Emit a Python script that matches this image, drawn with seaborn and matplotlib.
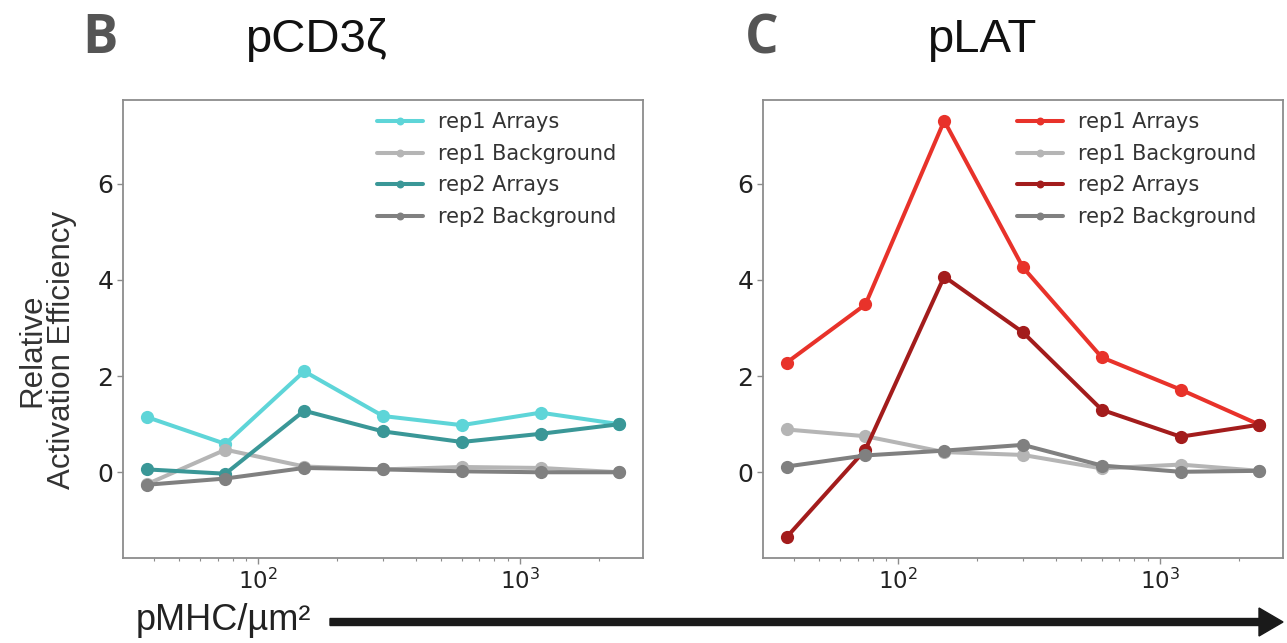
import numpy as np
import pandas as pd
import matplotlib
matplotlib.use("Agg")
import matplotlib.pyplot as plt
import seaborn as sns

# ---------------- data ----------------
density = [37.5, 75, 150, 300, 600, 1200, 2400]  # pMHC/um^2
series_names = ["rep1 Arrays", "rep1 Background", "rep2 Arrays", "rep2 Background"]

cd3_rep1_arrays = [1.15, 0.59, 2.10, 1.17, 0.98, 1.24, 1.00]
cd3_rep1_background = [-0.25, 0.47, 0.12, 0.06, 0.11, 0.09, 0.00]
cd3_rep2_arrays = [0.06, -0.03, 1.28, 0.85, 0.63, 0.80, 1.00]
cd3_rep2_background = [-0.26, -0.13, 0.09, 0.06, 0.02, 0.00, 0.00]

lat_rep1_arrays = [2.28, 3.49, 7.31, 4.26, 2.39, 1.72, 0.99]
lat_rep1_background = [0.89, 0.75, 0.42, 0.36, 0.08, 0.16, 0.03]
lat_rep2_arrays = [-1.35, 0.47, 4.07, 2.91, 1.30, 0.74, 0.99]
lat_rep2_background = [0.12, 0.35, 0.45, 0.57, 0.14, 0.01, 0.03]

panel_titles = ["pCD3ζ", "pLAT"]
panel_letters = ["B", "C"]

cd3_colors = ["#5ed5d8", "#b5b5b5", "#3a9797", "#808080"]
lat_colors = ["#e8322a", "#b5b5b5", "#a31c1c", "#808080"]


def long_df(values):
    rows = []
    for name, vals in zip(series_names, values):
        for x, y in zip(density, vals):
            rows.append({"density": x, "value": y, "series": name})
    return pd.DataFrame(rows)


df_cd3 = long_df([cd3_rep1_arrays, cd3_rep1_background, cd3_rep2_arrays, cd3_rep2_background])
df_lat = long_df([lat_rep1_arrays, lat_rep1_background, lat_rep2_arrays, lat_rep2_background])

# ---------------- figure ----------------
sns.set_style("white")
plt.rcParams["font.family"] = ["DejaVu Sans"]

W, H = 1287, 643
fig = plt.figure(figsize=(W / 100, H / 100), dpi=100)

def rect(x0, x1, y0, y1):
    return [x0 / W, 1 - y1 / H, (x1 - x0) / W, (y1 - y0) / H]

ax1 = fig.add_axes(rect(123, 643, 100, 558))
ax2 = fig.add_axes(rect(763, 1283, 100, 558), sharey=ax1)

for ax, df, colors in [(ax1, df_cd3, cd3_colors), (ax2, df_lat, lat_colors)]:
    for name, col in zip(series_names, colors):
        sub = df[df["series"] == name]
        sns.lineplot(data=sub, x="density", y="value", ax=ax, color=col,
                     marker="o", markersize=9.5, markeredgewidth=0,
                     linewidth=2.9, label=name, sort=False)
    ax.set_xscale("log")
    ax.set_xlabel("")
    ax.set_ylabel("")
    ax.set_yticks([0, 2, 4, 6])
    for sp in ax.spines.values():
        sp.set_color("#8c8c8c")
        sp.set_linewidth(1.3)
    ax.tick_params(axis="both", which="major", direction="out", length=4,
                   width=1.0, color="#8c8c8c", bottom=True, left=True)
    ax.tick_params(axis="x", which="minor", direction="out", length=2.5,
                   width=0.8, color="#8c8c8c", bottom=True)
    ax.tick_params(axis="y", labelsize=18, labelcolor="#222222", pad=3)
    ax.tick_params(axis="x", labelsize=16.5, labelcolor="#222222", pad=4)
    leg = ax.legend(loc="upper right", bbox_to_anchor=(0.972, 1.0), frameon=False,
                    fontsize=15, handlelength=2.2, handletextpad=0.7,
                    labelspacing=0.55, markerscale=0.6, borderaxespad=0.2,
                    borderpad=0.4)
    for t in leg.get_texts():
        t.set_color("#333333")

# titles, panel letters
for (xc, title), (xl, letter) in zip([(316, panel_titles[0]), (982, panel_titles[1])],
                                     [(100, panel_letters[0]), (762, panel_letters[1])]):
    fig.text(xc / W, 1 - 40 / H, title, ha="center", va="center", fontsize=34,
             family=["Liberation Sans", "DejaVu Sans"], color="#111111")
    fig.text(xl / W, 1 - 39 / H, letter, ha="center", va="center", fontsize=38,
             fontweight="bold", family=["Open Sans", "DejaVu Sans"], color="#555555")

# y label
fig.text(47 / W, 1 - 350 / H, "Relative\nActivation Efficiency", rotation=90,
         ha="center", va="center", fontsize=22.5, linespacing=1.0,
         family=["Liberation Sans", "DejaVu Sans"], color="#333333")

# x label with arrow
fig.text(223 / W, 1 - 621 / H, "pMHC/µm²", ha="center", va="center", fontsize=26,
         family=["Liberation Sans", "DejaVu Sans"], color="#222222")
fig.patches.append(matplotlib.patches.FancyArrow(
    330 / W, 1 - 622 / H, (1283 - 330) / W, 0, width=7 / H, head_width=28 / H,
    head_length=24 / W, length_includes_head=True, color="#1a1a1a",
    transform=fig.transFigure, figure=fig))

fig.savefig("out.png", dpi=100)
